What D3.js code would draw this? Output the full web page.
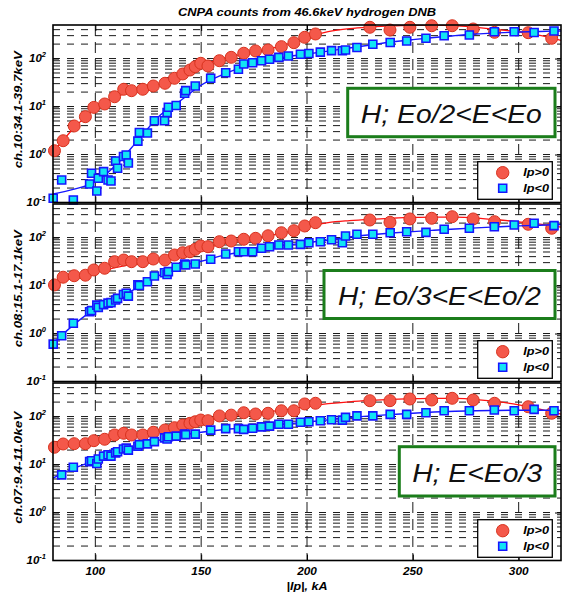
<!DOCTYPE html>
<html><head><meta charset="utf-8">
<script src="https://cdn.jsdelivr.net/npm/d3@7"></script>
<style>html,body{margin:0;padding:0;background:#fff;} svg{display:block;font-family:"Liberation Sans",Arial,sans-serif;}</style>
</head><body><svg id="c" width="562" height="599"></svg>
<script>
// ---------------- data ----------------
const title = "CNPA counts from 46.6keV hydrogen DNB";
const xTitle = "|Ip|, kA";
const xDomain = [80, 320];
const xTicks = [100, 150, 200, 250, 300];
const yDomain = [0.1, 500];
const yDecades = [0.1, 1, 10, 100];
const yExponents = ["-1", "0", "1", "2"];
const yLabels = ["ch.10:34.1-39.7keV", "ch.08:15.1-17.1keV", "ch.07:9.4-11.0keV"];
const notes = ["H; Eo/2<E<Eo", "H; Eo/3<E<Eo/2", "H; E<Eo/3"];
const legendNames = ["Ip>0", "Ip<0"];

// |Ip| of discharges with Ip>0 (red) and Ip<0 (blue)
const ipPos = [80.7, 84.8, 90.0, 95.3, 99.3, 104.4, 109.1, 113.4, 117.1, 122.4, 127.4, 132.9, 137.4, 141.3, 144.7, 147.2, 149.8, 153.2, 158.6, 164.2, 170.1, 175.7, 181.6, 187.9, 193.8, 198.9, 204.0, 229.7, 239.2, 248.6, 258.9, 268.6, 278.5, 288.6, 304.5, 315.6];
const ipNeg = [80.1, 84.1, 89.6, 97.3, 98.2, 100.7, 101.4, 103.9, 106.0, 107.4, 109.6, 110.5, 113.3, 114.6, 115.6, 120.1, 120.8, 124.6, 127.9, 132.7, 133.9, 134.5, 138.2, 142.2, 142.7, 147.2, 154.5, 161.6, 167.6, 170.1, 174.3, 178.5, 182.3, 186.7, 191.2, 196.9, 200.9, 206.3, 211.6, 216.7, 218.2, 223.6, 231.1, 239.3, 247.1, 256.2, 264.8, 276.7, 288.5, 297.9, 307.3, 316.7];

const ch10Pos = [1.20, 1.94, 3.93, 6.15, 9.6, 11.3, 16.0, 22.9, 21.4, 22.9, 26.8, 30.5, 38.8, 47.7, 57.7, 67.6, 79.6, 70, 90.2, 106, 129, 144, 151, 177, 214, 277, 325, 448, 393, 448, 483, 483, 413, 352, 346, 264];
const ch10Neg = [0.123, 0.295, 0.113, 0.243, 0.407, 0.174, 0.320, 0.44, 0.295, 0.281, 0.734, 0.518, 0.91, 0.98, 0.667, 1.90, 2.88, 2.81, 5.07, 5.07, 7.52, 9.64, 10.5, 18.9, 21.4, 26.8, 38.8, 50.7, 59.7, 77.0, 82, 90.2, 96.4, 106, 113, 123, 127, 136, 146, 145, 151, 170, 198, 216, 232, 264, 298, 309, 362, 362, 349, 375];
const ch08Pos = [10.3, 14.9, 16.0, 16.4, 21.1, 22.9, 31.4, 34.0, 31.4, 31.4, 35.7, 34, 43.3, 48.3, 50.7, 56.9, 66.7, 64.5, 82, 84.7, 92, 96.4, 109, 126, 139, 174, 204, 232, 208, 244, 252, 272, 244, 214, 189, 156];
const ch08Neg = [0.60, 0.90, 1.64, 2.85, 3.0, 3.9, 3.5, 4.0, 4.3, 4.4, 5.0, 5.4, 6.5, 6.9, 6.0, 10.3, 10.0, 12.0, 15.8, 18.5, 17.0, 19.5, 24, 28.1, 27, 28.1, 35.2, 45.4, 50.7, 50.7, 50.7, 59.7, 64.4, 70, 70, 72, 78, 82, 90, 78, 108, 117, 117, 126, 132, 128, 149, 156, 168, 183, 198, 177];
const ch07Pos = [22.9, 26.8, 27.2, 27.2, 31.4, 33.6, 41.3, 44.8, 41.3, 41.3, 47, 52.5, 58.6, 66.7, 72.3, 78, 84.7, 82, 103, 107, 120, 113, 117, 132, 132, 183, 189, 214, 214, 232, 221, 240, 221, 189, 160, 117];
const ch07Neg = [null, 6.1, 8.8, 11.5, 12.0, 10.5, 13, 15, 16, 15, 17.5, 18.5, 21, 22, 20, 24, 26, 27, 30, 36, 34, 38, 39, 43, 42, 43, 52, 56, 56, 54, 57, 61, 63, 69, 69, 76, 78, 82, 86, 84, 96, 103, 103, 111, 111, 120, 132, 132, 137, 132, 141, 132];

// fitted curves
const fitIp = [80, 90, 100, 110, 120, 130, 140, 150, 160, 170, 180, 190, 200, 210, 220, 230, 240, 250, 260, 270, 280, 290, 300, 310, 320];
const fit10Pos = [1.1, 3.6, 9.0, 16, 22, 29, 44, 72, 100, 125, 152, 195, 275, 362, 420, 455, 478, 490, 495, 488, 445, 400, 362, 305, 240];
const fit10Neg = [0.15, 0.19, 0.27, 0.62, 1.95, 6.2, 13, 28, 46, 67, 89, 108, 124, 143, 166, 192, 221, 248, 275, 300, 325, 342, 357, 367, 375];
const fit08Pos = [11, 14.5, 19, 24, 29, 35, 44, 57, 73, 89, 105, 128, 170, 205, 225, 240, 252, 262, 267, 266, 255, 235, 212, 190, 165];
const fit08Neg = [0.62, 1.55, 3.3, 5.3, 9, 16, 25, 32, 42, 51, 60, 69, 78, 89, 103, 114, 124, 133, 142, 151, 159, 167, 175, 181, 186];
const fit07Pos = [23, 27, 31, 37, 43, 49, 60, 78, 97, 113, 125, 140, 163, 185, 203, 217, 228, 236, 240, 238, 226, 205, 175, 142, 112];
const fit07Neg = [5.2, 8.4, 12, 17, 24, 32, 40, 47, 53, 58, 63, 70, 77, 85, 95, 103, 110, 117, 124, 129, 132, 134, 135, 135, 134];

// ---------------- layout ----------------
const svg = d3.select("#c");
const L = 53, R = 561;
const panelTop = [25, 204, 383];
const panelH = 177.5;
const noteBoxes = [[347.7, 88.3, 555, 136.7, 181, 122.5], [324, 270.5, 555, 318.5, 203, 304.5], [399.3, 446.7, 555, 496, 130, 481.5]];
const RED_FILL = "#f4584a", RED_STROKE = "#d8321e", RED_LINE = "#ff1010";
const CYAN = "#12e4f4", BLUE = "#1616ff";

const x = d3.scaleLinear().domain(xDomain).range([L, R]);

const panels = [
  {label: yLabels[0], note: notes[0], ipP: ipPos, vP: ch10Pos, ipN: ipNeg, vN: ch10Neg, fP: fit10Pos, fN: fit10Neg},
  {label: yLabels[1], note: notes[1], ipP: ipPos, vP: ch08Pos, ipN: ipNeg, vN: ch08Neg, fP: fit08Pos, fN: fit08Neg},
  {label: yLabels[2], note: notes[2], ipP: ipPos, vP: ch07Pos, ipN: ipNeg, vN: ch07Neg, fP: fit07Pos, fN: fit07Neg}
];

// title
svg.append("text").attr("x", (L + R) / 2).attr("y", 16).attr("text-anchor", "middle")
  .attr("font-size", 11).attr("font-weight", "bold").attr("font-style", "italic")
  .attr("textLength", 258).attr("lengthAdjust", "spacingAndGlyphs").text(title);

panels.forEach((p, i) => {
  const top = panelTop[i], bot = top + panelH;
  const y = d3.scaleLog().domain(yDomain).range([bot, top]);
  const g = svg.append("g");
  const clipId = "clip" + i;
  svg.append("defs").append("clipPath").attr("id", clipId)
    .append("rect").attr("x", L).attr("y", top).attr("width", R - L).attr("height", panelH);

  // horizontal dashed grid at every log tick
  const yt = y.ticks().filter(v => v > yDomain[0] * 1.0001 && v < yDomain[1] * 0.9999);
  g.append("g").selectAll("line").data(yt).join("line")
    .attr("x1", L).attr("x2", R).attr("y1", d => y(d)).attr("y2", d => y(d))
    .attr("stroke", "#1a1a1a").attr("stroke-width", 1).attr("stroke-dasharray", "7,7");
  // vertical dashed grid
  g.append("g").selectAll("line").data(xTicks).join("line")
    .attr("x1", d => x(d)).attr("x2", d => x(d)).attr("y1", top).attr("y2", bot)
    .attr("stroke", "#1a1a1a").attr("stroke-width", 1).attr("stroke-dasharray", "11,6");

  // axis ticks (inward)
  g.append("g").attr("transform", `translate(${L},0)`)
    .call(d3.axisLeft(y).tickValues(yt.filter(v => yDecades.includes(v))).tickSize(-6).tickFormat(""))
    .call(a => a.select(".domain").remove());
  g.append("g").attr("transform", `translate(${R},0)`)
    .call(d3.axisRight(y).tickValues(yt.filter(v => yDecades.includes(v))).tickSize(-6).tickFormat(""))
    .call(a => a.select(".domain").remove());
  g.append("g").attr("transform", `translate(0,${bot})`)
    .call(d3.axisBottom(x).tickValues(xTicks).tickSize(-6).tickFormat(""))
    .call(a => a.select(".domain").remove());
  g.append("g").attr("transform", `translate(0,${top})`)
    .call(d3.axisTop(x).tickValues(xTicks).tickSize(-6).tickFormat(""))
    .call(a => a.select(".domain").remove());

  // fit lines and markers
  const line = d3.line().x(d => x(d[0])).y(d => y(d[1])).curve(d3.curveMonotoneX);
  const dataLayer = g.append("g");
  dataLayer.append("path").attr("clip-path", `url(#${clipId})`)
    .attr("d", line(fitIp.map((v, k) => [v, p.fP[k]])))
    .attr("fill", "none").attr("stroke", RED_LINE).attr("stroke-width", 1.3);
  dataLayer.selectAll("circle.pos").data(p.ipP.map((v, k) => [v, p.vP[k]]).filter(d => d[1] != null))
    .join("circle").attr("class", "pos")
    .attr("cx", d => x(d[0])).attr("cy", d => y(d[1])).attr("r", 6)
    .attr("fill", RED_FILL).attr("stroke", RED_STROKE).attr("stroke-width", 1);
  dataLayer.append("path").attr("clip-path", `url(#${clipId})`)
    .attr("d", line(fitIp.map((v, k) => [v, p.fN[k]])))
    .attr("fill", "none").attr("stroke", BLUE).attr("stroke-width", 1.4);
  const sq = d3.symbol(d3.symbolSquare, 64);
  dataLayer.selectAll("path.neg").data(p.ipN.map((v, k) => [v, p.vN[k]]).filter(d => d[1] != null))
    .join("path").attr("class", "neg")
    .attr("d", sq).attr("transform", d => `translate(${x(d[0])},${y(d[1])})`)
    .attr("fill", CYAN).attr("stroke", BLUE).attr("stroke-width", 1.6);

  // annotation box
  const nb = noteBoxes[i];
  g.append("rect").attr("x", nb[0]).attr("y", nb[1]).attr("width", nb[2] - nb[0]).attr("height", nb[3] - nb[1])
    .attr("fill", "#fff").attr("stroke", "#1b7d1b").attr("stroke-width", 3);
  g.append("text").attr("x", (nb[0] + nb[2]) / 2).attr("y", nb[5]).attr("text-anchor", "middle")
    .attr("font-size", 26.5).attr("font-style", "italic").attr("fill", "#111")
    .attr("textLength", nb[4]).attr("lengthAdjust", "spacingAndGlyphs").text(p.note);

  // legend
  const lg = g.append("g").attr("transform", `translate(0,${bot})`);
  lg.append("rect").attr("x", 477.7).attr("y", -40.8).attr("width", 74.6).attr("height", 37.6)
    .attr("fill", "#fff").attr("stroke", "#000").attr("stroke-width", 1.3);
  lg.append("circle").attr("cx", 502.7).attr("cy", -29.8).attr("r", 6.2)
    .attr("fill", RED_FILL).attr("stroke", RED_STROKE).attr("stroke-width", 1);
  lg.append("path").attr("d", d3.symbol(d3.symbolSquare, 64)).attr("transform", "translate(502.7,-14.2)")
    .attr("fill", CYAN).attr("stroke", BLUE).attr("stroke-width", 1.6);
  legendNames.forEach((n, k) => {
    lg.append("text").attr("x", 523.3).attr("y", k === 0 ? -26.3 : -10.3)
      .attr("font-size", 11).attr("font-weight", "bold").attr("font-style", "italic")
      .attr("textLength", 25.7).attr("lengthAdjust", "spacingAndGlyphs").text(n);
  });

  // frame
  g.append("rect").attr("x", L).attr("y", top).attr("width", R - L).attr("height", panelH)
    .attr("fill", "none").attr("stroke", "#000").attr("stroke-width", 1.6);

  // y tick labels 10^n
  yDecades.forEach((v, k) => {
    const t = g.append("text").attr("x", 46).attr("y", y(v) + 3.5).attr("text-anchor", "end")
      .attr("font-size", 11.5).attr("font-weight", "bold").attr("font-style", "italic");
    t.append("tspan").text("10");
    t.append("tspan").attr("font-size", 7.5).attr("dy", -5).text(yExponents[k]);
  });

  // y axis title
  const cy = (top + bot) / 2 - 4;
  g.append("text").attr("transform", `translate(21.5,${cy}) rotate(-90)`).attr("text-anchor", "middle")
    .attr("font-size", 11).attr("font-weight", "bold").attr("font-style", "italic")
    .attr("textLength", i === 2 ? 112 : 117).attr("lengthAdjust", "spacingAndGlyphs").text(p.label);

  // x tick labels on bottom panel only
  if (i === panels.length - 1) {
    g.append("g").selectAll("text").data(xTicks).join("text")
      .attr("x", d => x(d)).attr("y", 575).attr("text-anchor", "middle")
      .attr("font-size", 11).attr("font-weight", "bold").attr("font-style", "italic")
      .attr("textLength", 19.7).attr("lengthAdjust", "spacingAndGlyphs").text(d => d);
    g.append("text").attr("x", (L + R) / 2).attr("y", 589.5).attr("text-anchor", "middle")
      .attr("font-size", 11).attr("font-weight", "bold").attr("font-style", "italic")
      .attr("textLength", 41).attr("lengthAdjust", "spacingAndGlyphs").text(xTitle);
  }
});
</script></body></html>
